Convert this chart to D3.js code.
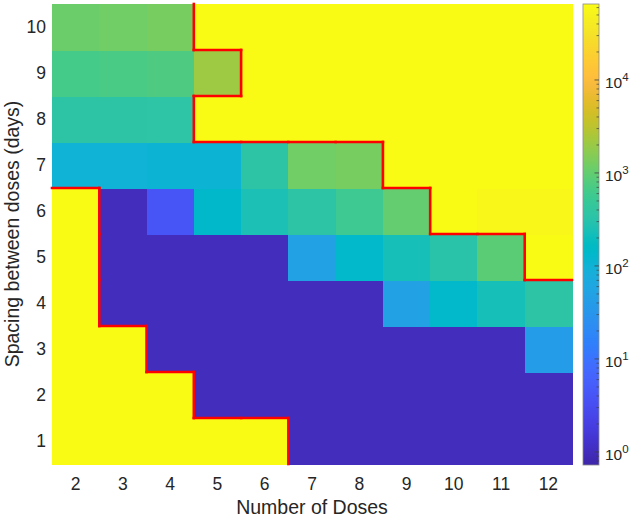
<!DOCTYPE html>
<html>
<head>
<meta charset="utf-8">
<script src="https://cdn.jsdelivr.net/npm/d3@7"></script>
<style>
  body { margin: 0; background: #fff; }
  svg { display: block; }
  text { font-family: Arial, "Liberation Sans", Helvetica, sans-serif; fill: #262626; }
</style>
</head>
<body>
<svg id="chart" width="633" height="520"></svg>
<script>
// ---- data ----
const doses = [2, 3, 4, 5, 6, 7, 8, 9, 10, 11, 12];
const spacings = [1, 2, 3, 4, 5, 6, 7, 8, 9, 10];
// values per spacing row (one value per dose); 70000 = saturated (yellow)
const spacing1  = [70000, 70000, 70000, 70000, 70000, 1, 1, 1, 1, 1, 1];
const spacing2  = [70000, 70000, 70000, 1, 1, 1, 1, 1, 1, 1, 1];
const spacing3  = [70000, 70000, 1, 1, 1, 1, 1, 1, 1, 1, 40];
const spacing4  = [70000, 1, 1, 1, 1, 1, 1, 50, 135, 230, 350];
const spacing5  = [70000, 1, 1, 1, 1, 50, 135, 230, 320, 900, 70000];
const spacing6  = [70000, 1, 4, 140, 250, 350, 560, 1000, 70000, 58000, 58000];
const spacing7  = [100, 100, 105, 105, 350, 1200, 1300, 70000, 70000, 70000, 70000];
const spacing8  = [350, 350, 360, 66000, 66000, 66000, 66000, 70000, 70000, 70000, 70000];
const spacing9  = [650, 700, 750, 2100, 70000, 70000, 70000, 70000, 70000, 70000, 70000];
const spacing10 = [1100, 1200, 1300, 70000, 70000, 70000, 70000, 70000, 70000, 70000, 70000];
const rows = [spacing1, spacing2, spacing3, spacing4, spacing5, spacing6, spacing7, spacing8, spacing9, spacing10];
const colorMin = 0.724, colorMax = 65600;
const cbTicks = [1, 10, 100, 1000, 10000];
const cbExponents = ["0", "1", "2", "3", "4"];
const limitValue = 30000; // cells at/above this are bounded in red

// parula (64 entries)
const parula = [
[0.2422,0.1504,0.6603],[0.2504,0.1650,0.7076],[0.2578,0.1818,0.7511],[0.2647,0.1978,0.7952],
[0.2706,0.2147,0.8364],[0.2751,0.2342,0.8710],[0.2783,0.2559,0.8991],[0.2803,0.2782,0.9221],
[0.2813,0.3006,0.9414],[0.2810,0.3228,0.9579],[0.2795,0.3447,0.9717],[0.2760,0.3667,0.9829],
[0.2699,0.3892,0.9906],[0.2602,0.4123,0.9952],[0.2440,0.4358,0.9988],[0.2206,0.4603,0.9973],
[0.1963,0.4847,0.9892],[0.1834,0.5074,0.9798],[0.1786,0.5289,0.9682],[0.1764,0.5499,0.9520],
[0.1687,0.5703,0.9359],[0.1540,0.5902,0.9218],[0.1460,0.6091,0.9079],[0.1380,0.6276,0.8973],
[0.1248,0.6459,0.8883],[0.1113,0.6635,0.8763],[0.0952,0.6798,0.8598],[0.0689,0.6948,0.8394],
[0.0297,0.7082,0.8163],[0.0036,0.7203,0.7917],[0.0067,0.7312,0.7660],[0.0433,0.7411,0.7394],
[0.0964,0.7500,0.7120],[0.1408,0.7584,0.6842],[0.1717,0.7670,0.6554],[0.1938,0.7758,0.6251],
[0.2161,0.7843,0.5923],[0.2470,0.7918,0.5567],[0.2906,0.7973,0.5188],[0.3406,0.8008,0.4789],
[0.3909,0.8029,0.4354],[0.4456,0.8024,0.3909],[0.5044,0.7993,0.3480],[0.5616,0.7942,0.3045],
[0.6174,0.7876,0.2612],[0.6720,0.7793,0.2227],[0.7242,0.7698,0.1910],[0.7738,0.7598,0.1646],
[0.8203,0.7498,0.1535],[0.8634,0.7406,0.1596],[0.9035,0.7330,0.1774],[0.9393,0.7288,0.2100],
[0.9728,0.7298,0.2394],[0.9956,0.7434,0.2371],[0.9970,0.7659,0.2199],[0.9952,0.7893,0.2028],
[0.9892,0.8136,0.1885],[0.9786,0.8386,0.1766],[0.9676,0.8639,0.1643],[0.9610,0.8890,0.1537],
[0.9597,0.9135,0.1423],[0.9628,0.9373,0.1265],[0.9691,0.9606,0.1064],[0.9769,0.9839,0.0805]
].map(c => d3.rgb(c[0]*255, c[1]*255, c[2]*255).formatHex());
const parulaInterp = d3.piecewise(d3.interpolateRgb, parula);

// ---- layout ----
const svg = d3.select("#chart");
const plot = { left: 52, right: 572, top: 4, bottom: 464 };
const cb = { left: 583, right: 599, top: 4, bottom: 465 };

const x = d3.scaleBand().domain(doses).range([plot.left, plot.right]);
const y = d3.scaleBand().domain(spacings.slice().reverse()).range([plot.top, plot.bottom]);
const color = d3.scaleSequentialLog(parulaInterp).domain([colorMin, colorMax]).clamp(true);

const cells = [];
rows.forEach((vals, i) => vals.forEach((v, j) => cells.push({ s: spacings[i], d: doses[j], v })));

svg.append("g").selectAll("rect").data(cells).join("rect")
  .attr("x", c => x(c.d))
  .attr("y", c => y(c.s))
  .attr("width", x.bandwidth() + 0.5)
  .attr("height", y.bandwidth() + 0.5)
  .attr("fill", c => color(c.v))
  .attr("shape-rendering", "crispEdges");

// red boundary between saturated and non-saturated cells
const isLimit = (i, j) => rows[i][j] >= limitValue;
const segs = [];
for (let i = 0; i < spacings.length; i++) {
  for (let j = 0; j < doses.length; j++) {
    if (j + 1 < doses.length && isLimit(i, j) !== isLimit(i, j + 1)) {
      const xe = x(doses[j]) + x.bandwidth();
      segs.push([xe, y(spacings[i]), xe, y(spacings[i]) + y.bandwidth()]);
    }
    if (i + 1 < spacings.length && isLimit(i, j) !== isLimit(i + 1, j)) {
      const ye = y(spacings[i]);
      segs.push([x(doses[j]), ye, x(doses[j]) + x.bandwidth(), ye]);
    }
  }
}
svg.append("g").selectAll("line").data(segs).join("line")
  .attr("x1", s => s[0]).attr("y1", s => s[1])
  .attr("x2", s => s[2]).attr("y2", s => s[3])
  .attr("stroke", "#ff0000").attr("stroke-width", 2.6).attr("stroke-linecap", "square");

// axes
const xAxis = svg.append("g").attr("transform", `translate(0,${plot.bottom})`)
  .call(d3.axisBottom(x).tickSize(0).tickPadding(14));
xAxis.select(".domain").remove();
xAxis.selectAll("text").attr("font-size", 17.5).attr("fill", "#262626")
  .style("font-family", "Arial, 'Liberation Sans', sans-serif");

const yAxis = svg.append("g").attr("transform", `translate(${plot.left},0)`)
  .call(d3.axisLeft(y).tickSize(0).tickPadding(6));
yAxis.select(".domain").remove();
yAxis.selectAll("text").attr("font-size", 17.5).attr("fill", "#262626")
  .style("font-family", "Arial, 'Liberation Sans', sans-serif");

svg.append("text").attr("x", (plot.left + plot.right) / 2).attr("y", 514)
  .attr("text-anchor", "middle").attr("font-size", 19.5).text("Number of Doses");
svg.append("text").attr("transform", `translate(19,${(plot.top + plot.bottom) / 2}) rotate(-90)`)
  .attr("text-anchor", "middle").attr("font-size", 19.5).text("Spacing between doses (days)");

// colorbar
const cy = d3.scaleLog().domain([colorMin, colorMax]).range([cb.bottom, cb.top]);
const defs = svg.append("defs");
const grad = defs.append("linearGradient").attr("id", "cbgrad")
  .attr("x1", 0).attr("y1", 1).attr("x2", 0).attr("y2", 0);
parula.forEach((c, i) => grad.append("stop").attr("offset", i / (parula.length - 1)).attr("stop-color", c));
svg.append("rect").attr("x", cb.left).attr("y", cb.top)
  .attr("width", cb.right - cb.left).attr("height", cb.bottom - cb.top)
  .attr("fill", "url(#cbgrad)").attr("stroke", "#8c8c8c").attr("stroke-width", 0.8);

// minor ticks
const minor = [];
for (let e = -1; e <= 4; e++) for (let m = 2; m <= 9; m++) {
  const v = m * Math.pow(10, e);
  if (v > colorMin && v < colorMax) minor.push(v);
}
svg.append("g").selectAll("line").data(minor).join("line")
  .attr("x1", cb.right - 2.5).attr("x2", cb.right)
  .attr("y1", d => cy(d)).attr("y2", d => cy(d))
  .attr("stroke", "#404040").attr("stroke-width", 0.7);
svg.append("g").selectAll("line").data(cbTicks).join("line")
  .attr("x1", cb.right - 4.5).attr("x2", cb.right)
  .attr("y1", d => cy(d)).attr("y2", d => cy(d))
  .attr("stroke", "#404040").attr("stroke-width", 0.8);

const lbl = svg.append("g").selectAll("text").data(cbTicks).join("text")
  .attr("x", 605).attr("y", d => cy(d) + 8).attr("font-size", 15.5);
lbl.append("tspan").text("10");
lbl.append("tspan").attr("font-size", 11.5).attr("dy", -7).text((d, i) => cbExponents[i]);
</script>
</body>
</html>
